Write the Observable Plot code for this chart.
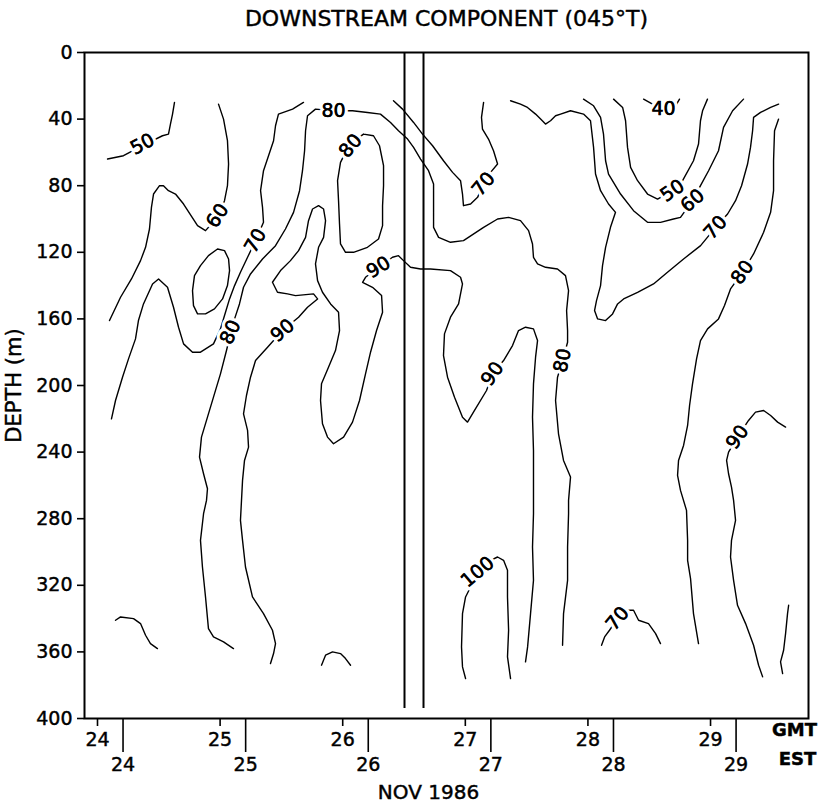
<!DOCTYPE html>
<html>
<head>
<meta charset="utf-8">
<script src="https://cdn.jsdelivr.net/npm/d3@7"></script>
<script src="https://cdn.jsdelivr.net/npm/@observablehq/plot@0.6"></script>
<style>
  html, body { margin: 0; padding: 0; background: #fff; }
  #chart svg { display: block; }
  #chart svg text { stroke: #000; stroke-width: 0.45px; }
  #chart svg g.halo text { stroke: #fff; stroke-width: 7px; }
</style>
</head>
<body>
<div id="chart"></div>
<script>
// ---- Axis values ----
const gmtDays = [24, 25, 26, 27, 28, 29];
const estDays = [24, 25, 26, 27, 28, 29];
const estOffsetHours = 5;
const depthTicks = [0, 40, 80, 120, 160, 200, 240, 280, 320, 360, 400];

// ---- Data gap (double vertical lines), in days GMT and depth (m) ----
const gapDays = [26.504, 26.659];
const gapDepth = [0, 394];

// ---- Contour lines: [day (GMT, Nov 1986), depth (m)] ----
const c50a = [[24.628,30],[24.612,37],[24.595,43],[24.579,49],[24.530,50],[24.367,56],[24.212,62],[24.082,64]];
const c60a = [[24.987,31],[25.028,40],[25.060,53],[25.069,67],[25.060,80],[25.036,89],[24.979,99],[24.881,107],[24.816,104],[24.702,91],[24.636,85],[24.579,83],[24.538,80],[24.506,80],[24.457,85],[24.440,93],[24.424,106],[24.392,117],[24.351,125],[24.277,136],[24.188,147],[24.098,161]];
const c70a = [[25.680,30],[25.591,34],[25.476,37],[25.452,44],[25.436,53],[25.395,62],[25.354,71],[25.330,83],[25.346,93],[25.354,102],[25.289,113],[25.224,123],[25.166,132],[25.118,140],[25.077,148],[25.044,156],[25.003,166],[24.946,175],[24.840,180],[24.775,180],[24.702,175],[24.661,165],[24.620,153],[24.571,141],[24.498,136],[24.449,139],[24.375,151],[24.334,161],[24.310,172],[24.253,184],[24.204,195],[24.147,209],[24.114,220]];
const loopA = [[24.979,118],[25.036,119],[25.069,124],[25.077,131],[25.060,140],[25.020,148],[24.954,154],[24.881,157],[24.816,157],[24.783,152],[24.775,143],[24.791,134],[24.840,128],[24.905,122],[24.979,118]];
const c80a = [[25.109,358],[25.028,354],[24.946,351],[24.905,346],[24.881,327],[24.856,309],[24.840,293],[24.865,277],[24.889,269],[24.897,262],[24.865,253],[24.832,243],[24.848,231],[24.897,219],[24.946,207],[25.003,193],[25.052,179],[25.085,169],[25.118,160],[25.158,151],[25.191,141],[25.248,133],[25.346,124],[25.452,116],[25.533,106],[25.599,96],[25.648,83],[25.672,71],[25.689,59],[25.697,47],[25.713,38],[25.778,34],[25.925,35],[26.080,35],[26.202,36],[26.308,37],[26.390,42],[26.455,47],[26.529,52],[26.578,57],[26.635,64],[26.700,71],[26.741,79],[26.741,93],[26.741,105],[26.782,111],[26.879,114],[26.985,113],[27.149,105],[27.263,100],[27.353,99],[27.450,101],[27.516,107],[27.548,115],[27.556,123],[27.589,127],[27.654,129],[27.752,130],[27.817,134],[27.842,143],[27.826,155],[27.834,167],[27.834,174],[27.793,185],[27.752,195],[27.736,209],[27.760,229],[27.801,245],[27.858,255],[27.842,269],[27.842,277],[27.834,297],[27.834,317],[27.801,337],[27.793,356]];
const loopB = [[26.170,49],[26.251,50],[26.300,56],[26.333,68],[26.333,80],[26.325,92],[26.325,104],[26.292,112],[26.202,117],[26.088,120],[26.023,120],[25.982,115],[25.974,103],[25.966,89],[25.958,77],[25.982,66],[26.023,60],[26.064,56],[26.113,52],[26.170,49]];
const c90a = [[25.411,367],[25.436,361],[25.452,355],[25.427,347],[25.354,337],[25.264,327],[25.207,309],[25.183,293],[25.166,281],[25.183,257],[25.199,245],[25.232,237],[25.224,227],[25.191,217],[25.215,206],[25.248,195],[25.289,185],[25.387,177],[25.509,167],[25.640,159],[25.713,153],[25.795,148],[25.762,145],[25.615,146],[25.550,145],[25.468,144],[25.427,138],[25.493,131],[25.574,125],[25.640,119],[25.697,111],[25.721,101],[25.754,94],[25.803,92],[25.844,94],[25.860,101],[25.844,111],[25.803,117],[25.778,127],[25.795,137],[25.835,144],[25.901,151],[25.966,156],[25.974,167],[25.941,179],[25.884,189],[25.827,199],[25.819,209],[25.835,223],[25.876,231],[25.925,235],[26.007,231],[26.080,222],[26.137,209],[26.186,193],[26.227,180],[26.276,167],[26.325,156],[26.317,146],[26.243,141],[26.162,138],[26.186,135],[26.292,129],[26.406,123],[26.455,122],[26.496,125],[26.553,129],[26.635,130],[26.716,130],[26.879,131],[26.961,135],[26.977,139],[26.945,151],[26.879,159],[26.830,169],[26.822,182],[26.855,195],[26.912,207],[26.977,219],[27.018,222],[27.075,215],[27.173,203],[27.222,193],[27.312,185],[27.385,176],[27.434,167],[27.491,165],[27.556,166],[27.589,173],[27.573,183],[27.556,199],[27.548,219],[27.556,239],[27.556,257],[27.556,277],[27.548,297],[27.556,317],[27.532,337],[27.508,357],[27.491,366]];
const c70b = [[26.414,29],[26.488,34],[26.578,42],[26.651,49],[26.733,56],[26.822,65],[26.896,72],[26.961,77],[26.977,85],[26.985,92],[27.043,91],[27.100,87],[27.149,79],[27.206,72],[27.263,67],[27.230,59],[27.189,52],[27.140,46],[27.132,39],[27.149,30]];
const c70c = [[27.369,29],[27.450,31],[27.507,33],[27.573,37],[27.614,40],[27.654,43],[27.695,41],[27.736,38],[27.777,37],[27.858,35],[27.964,37],[28.021,41],[28.046,57],[28.062,73],[28.103,83],[28.168,91],[28.225,96],[28.184,105],[28.144,117],[28.119,128],[28.103,140],[28.070,149],[28.054,155],[28.079,160],[28.144,161],[28.201,157],[28.242,151],[28.291,148],[28.405,144],[28.535,139],[28.649,132],[28.780,124],[28.919,116],[29.041,105],[29.139,97],[29.204,89],[29.253,80],[29.302,67],[29.326,57],[29.343,47],[29.351,39],[29.408,36],[29.490,33],[29.555,31]];
const c60b = [[27.964,28],[28.046,32],[28.103,39],[28.127,49],[28.144,65],[28.168,73],[28.266,85],[28.372,95],[28.486,102],[28.592,102],[28.698,100],[28.755,99],[28.853,89],[28.918,80],[28.984,71],[29.065,59],[29.106,45],[29.180,35],[29.269,28]];
const c50b = [[28.209,28],[28.283,33],[28.307,41],[28.323,57],[28.348,69],[28.405,77],[28.486,85],[28.568,88],[28.690,83],[28.772,77],[28.861,65],[28.902,55],[28.918,41],[28.935,35],[28.975,28]];
const c40 = [[28.454,28],[28.527,31],[28.633,32],[28.723,31],[28.747,28]];
const c80c = [[29.555,40],[29.522,47],[29.514,65],[29.514,83],[29.490,96],[29.433,108],[29.351,121],[29.261,132],[29.163,142],[29.114,152],[29.065,160],[28.976,166],[28.918,173],[28.886,184],[28.853,199],[28.829,212],[28.813,224],[28.780,236],[28.739,245],[28.731,254],[28.755,263],[28.804,275],[28.813,293],[28.813,305],[28.837,316],[28.861,337],[28.902,355]];
const c90b = [[29.612,225],[29.547,222],[29.490,218],[29.433,215],[29.367,216],[29.310,221],[29.220,231],[29.147,240],[29.131,245],[29.147,253],[29.171,261],[29.188,269],[29.204,281],[29.171,293],[29.163,303],[29.188,317],[29.220,332],[29.286,343],[29.351,356],[29.392,368],[29.425,375]];
const cEdge = [[29.637,332],[29.628,337],[29.612,349],[29.596,359],[29.571,366],[29.588,373]];
const c100 = [[27.002,376],[26.977,369],[26.969,357],[26.977,337],[27.002,327],[27.043,321],[27.100,312],[27.206,305],[27.263,303],[27.312,305],[27.344,311],[27.344,327],[27.353,347],[27.344,363],[27.369,376]];
const c70d = [[28.111,356],[28.136,351],[28.176,347],[28.242,340],[28.323,335],[28.372,335],[28.413,341],[28.494,343],[28.552,349],[28.592,355]];
const cLow1 = [[24.147,341],[24.188,339],[24.294,340],[24.351,343],[24.392,350],[24.432,355],[24.489,358]];
const cLow2 = [[25.827,368],[25.860,362],[25.917,360],[25.982,361],[26.023,364],[26.064,368]];

// ---- Contour labels: [text, day, depth] and their angles ----
const contourLabels = [
  ["50", 24.367, 55], ["60", 24.979, 98], ["70", 25.289, 113], ["80", 25.925, 35],
  ["80", 26.064, 56], ["80", 25.085, 168], ["90", 25.509, 167], ["90", 26.292, 129],
  ["70", 27.149, 79], ["90", 27.222, 193], ["80", 27.793, 185], ["40", 28.617, 34],
  ["50", 28.690, 83], ["60", 28.853, 89], ["70", 29.041, 105], ["80", 29.261, 132],
  ["90", 29.220, 231], ["100", 27.100, 312], ["70", 28.242, 340]
];
const labelAngles = [-28, -57, -60, 0, -50, -65, -40, -32, -50, -55, -78, 0, -35, -40, -48, -55, -55, -40, -50];

// ---- Build tables ----
const contours = {c50a, c60a, c70a, loopA, c80a, loopB, c90a, c70b, c70c, c60b, c50b, c40, c80c, c90b, cEdge, c100, c70d, cLow1, cLow2};
const rows = Object.entries(contours).flatMap(([id, pts]) => pts.map(([day, depth]) => ({id, day, depth})));
const labels = contourLabels.map(([text, day, depth], i) => ({text, day, depth, angle: labelAngles[i]}));

const chart = Plot.plot({
  width: 826,
  height: 809,
  marginLeft: 84,
  marginRight: 18,
  marginTop: 52,
  marginBottom: 91,
  x: {domain: [23.894, 29.799]},
  y: {domain: [0, 400], reverse: true},
  style: {background: "white", color: "black", fontFamily: "DejaVu Sans", fontSize: "19px"},
  marks: [
    Plot.ruleX(gapDays, {y1: gapDepth[0], y2: gapDepth[1], stroke: "black", strokeWidth: 2}),
    Plot.line(rows, {x: "day", y: "depth", z: "id", stroke: "black", strokeWidth: 1.4}),
    Plot.text(labels, {x: "day", y: "depth", text: "text", rotate: "angle", fontSize: 19,
      fill: "black", stroke: "white", strokeWidth: 7, paintOrder: "stroke", className: "halo"}),
    Plot.text(labels, {x: "day", y: "depth", text: "text", rotate: "angle", fontSize: 19, fill: "black"}),
    Plot.frame({stroke: "black", strokeWidth: 2}),
    Plot.axisY({ticks: depthTicks, tickSize: 7, tickPadding: 5, label: null, strokeWidth: 1.6, fontSize: 19}),
    Plot.axisX({ticks: gmtDays, tickSize: 8, tickPadding: 6, label: null, strokeWidth: 1.6, fontSize: 19,
      tickFormat: d => String(d)}),
    Plot.axisX({ticks: estDays.map(d => d + estOffsetHours / 24), tickSize: 34, tickPadding: 5, label: null,
      strokeWidth: 1.6, fontSize: 19, tickFormat: d => String(Math.round(d - estOffsetHours / 24))}),
    Plot.text(["DOWNSTREAM COMPONENT (045°T)"], {text: d => d, frameAnchor: "top", dy: -34,
      lineAnchor: "middle", fontSize: 22}),
    Plot.text(["DEPTH (m)"], {text: d => d, frameAnchor: "left", dx: -70, rotate: -90,
      textAnchor: "middle", lineAnchor: "middle", fontSize: 21}),
    Plot.text(["NOV 1986"], {text: d => d, frameAnchor: "bottom", dx: -18, dy: 74,
      lineAnchor: "middle", fontSize: 20}),
    Plot.text(["GMT"], {text: d => d, frameAnchor: "bottom-right", dx: -14, dy: 12,
      textAnchor: "middle", lineAnchor: "middle", fontSize: 18, fontWeight: "bold"}),
    Plot.text(["EST"], {text: d => d, frameAnchor: "bottom-right", dx: -11, dy: 41,
      textAnchor: "middle", lineAnchor: "middle", fontSize: 18, fontWeight: "bold"})
  ]
});
document.getElementById("chart").appendChild(chart);
</script>
</body>
</html>
